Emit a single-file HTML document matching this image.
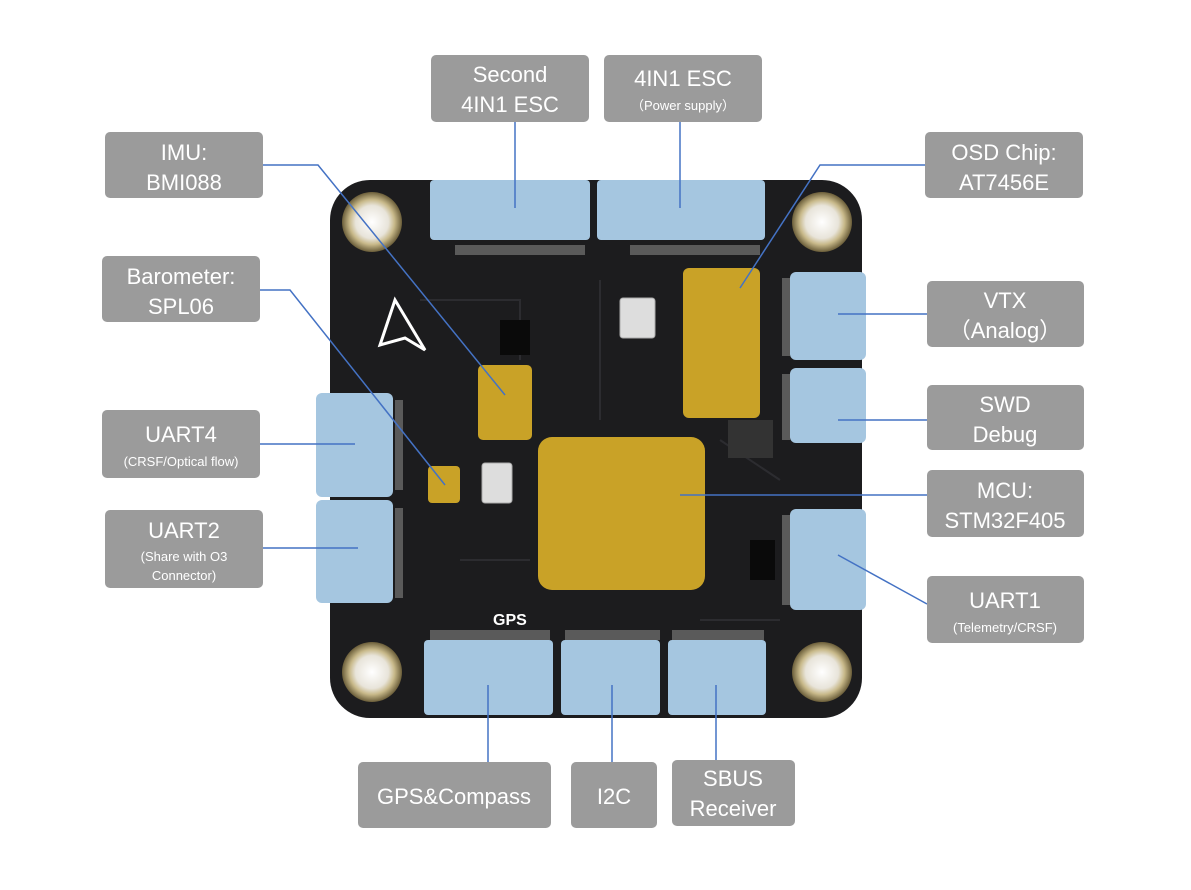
<!DOCTYPE html>
<html><head><meta charset="utf-8"><style>
html,body{margin:0;padding:0;background:#fff;}
svg{display:block;font-family:"Liberation Sans","DejaVu Sans",sans-serif;}
</style></head><body>
<svg width="1191" height="890" viewBox="0 0 1191 890" xmlns="http://www.w3.org/2000/svg">
<defs>
<radialGradient id="hole" cx="50%" cy="50%" r="50%">
<stop offset="0" stop-color="#fff"/><stop offset="0.55" stop-color="#e8e4da"/><stop offset="0.75" stop-color="#c8b98a"/><stop offset="1" stop-color="#6b5e3a"/>
</radialGradient>
</defs>
<!-- board -->
<rect x="330" y="180" width="532" height="538" rx="40" fill="#1c1c1e"/>
<!-- faint traces -->
<g stroke="#2c2c30" stroke-width="2" fill="none">
<path d="M420 300 L520 300 L520 360"/><path d="M600 280 L600 420"/><path d="M720 440 L780 480"/><path d="M460 560 L530 560"/><path d="M700 620 L780 620"/>
</g>
<!-- pin rows -->
<g fill="#5a5a5a">
<rect x="455" y="245" width="130" height="10"/><rect x="630" y="245" width="130" height="10"/>
<rect x="430" y="630" width="120" height="10"/><rect x="565" y="630" width="95" height="10"/><rect x="672" y="630" width="92" height="10"/>
<rect x="395" y="400" width="8" height="90"/><rect x="395" y="508" width="8" height="90"/>
<rect x="782" y="278" width="8" height="78"/><rect x="782" y="374" width="8" height="66"/><rect x="782" y="515" width="8" height="90"/>
</g>
<!-- holes -->
<circle cx="372" cy="222" r="30" fill="url(#hole)"/><circle cx="822" cy="222" r="30" fill="url(#hole)"/>
<circle cx="372" cy="672" r="30" fill="url(#hole)"/><circle cx="822" cy="672" r="30" fill="url(#hole)"/>
<!-- logo -->
<path d="M395 300 L425 350 L405 338 L380 345 Z" fill="none" stroke="#fff" stroke-width="3"/>
<!-- small parts -->
<rect x="500" y="320" width="30" height="35" fill="#0a0a0a"/>
<rect x="620" y="298" width="35" height="40" rx="3" fill="#ddd" stroke="#aaa"/>
<rect x="482" y="463" width="30" height="40" rx="3" fill="#ddd" stroke="#aaa"/>
<rect x="750" y="540" width="25" height="40" fill="#0a0a0a"/>
<rect x="728" y="420" width="45" height="38" fill="#333"/>
<text x="493" y="625" font-size="16" fill="#fff" font-weight="bold">GPS</text>
<!-- gold chips -->
<rect x="683" y="268" width="77" height="150" rx="6" fill="#c9a227"/>
<rect x="538" y="437" width="167" height="153" rx="14" fill="#c9a227"/>
<rect x="478" y="365" width="54" height="75" rx="5" fill="#c9a227"/>
<rect x="428" y="466" width="32" height="37" rx="4" fill="#c9a227"/>
<!-- blue connectors -->
<g fill="#a5c6e0">
<rect x="430" y="180" width="160" height="60" rx="4"/>
<rect x="597" y="180" width="168" height="60" rx="4"/>
<rect x="790" y="272" width="76" height="88" rx="6"/>
<rect x="790" y="368" width="76" height="75" rx="6"/>
<rect x="790" y="509" width="76" height="101" rx="6"/>
<rect x="316" y="393" width="77" height="104" rx="6"/>
<rect x="316" y="500" width="77" height="103" rx="6"/>
<rect x="424" y="640" width="129" height="75" rx="4"/>
<rect x="561" y="640" width="99" height="75" rx="4"/>
<rect x="668" y="640" width="98" height="75" rx="4"/>
</g>
<!-- lines -->
<g stroke="#4472c4" stroke-width="1.5" fill="none">
<path d="M515 122 V208"/><path d="M680 122 V208"/>
<path d="M263 165 H318 L505 395"/>
<path d="M925 165 H820 L740 288"/>
<path d="M260 290 H290 L445 485"/>
<path d="M927 314 H838"/><path d="M927 420 H838"/>
<path d="M260 444 H355"/><path d="M927 495 H680"/>
<path d="M263 548 H358"/><path d="M927 604 L838 555"/>
<path d="M488 762 V685"/><path d="M612 762 V685"/><path d="M716 760 V685"/>
</g>
<!-- labels -->
<g fill="#9b9b9b">
<rect x="431" y="55" width="158" height="67" rx="5"/>
<rect x="604" y="55" width="158" height="67" rx="5"/>
<rect x="105" y="132" width="158" height="66" rx="5"/>
<rect x="925" y="132" width="158" height="66" rx="5"/>
<rect x="102" y="256" width="158" height="66" rx="5"/>
<rect x="927" y="281" width="157" height="66" rx="5"/>
<rect x="927" y="385" width="157" height="65" rx="5"/>
<rect x="102" y="410" width="158" height="68" rx="5"/>
<rect x="927" y="470" width="157" height="67" rx="5"/>
<rect x="105" y="510" width="158" height="78" rx="5"/>
<rect x="927" y="576" width="157" height="67" rx="5"/>
<rect x="358" y="762" width="193" height="66" rx="5"/>
<rect x="571" y="762" width="86" height="66" rx="5"/>
<rect x="672" y="760" width="123" height="66" rx="5"/>
</g>
<g fill="#fff" text-anchor="middle" font-size="22">
<text x="510" y="82">Second</text><text x="510" y="112">4IN1 ESC</text>
<text x="683" y="86">4IN1 ESC</text><text x="683" y="110" font-size="13">（Power supply）</text>
<text x="184" y="160">IMU:</text><text x="184" y="190">BMI088</text>
<text x="1004" y="160">OSD Chip:</text><text x="1004" y="190">AT7456E</text>
<text x="181" y="284">Barometer:</text><text x="181" y="314">SPL06</text>
<text x="1005" y="308">VTX</text><text x="1005" y="338">（Analog）</text>
<text x="1005" y="412">SWD</text><text x="1005" y="442">Debug</text>
<text x="181" y="442">UART4</text><text x="181" y="466" font-size="13">(CRSF/Optical flow)</text>
<text x="1005" y="498">MCU:</text><text x="1005" y="528">STM32F405</text>
<text x="184" y="538">UART2</text><text x="184" y="561" font-size="13">(Share with O3</text><text x="184" y="580" font-size="13">Connector)</text>
<text x="1005" y="608">UART1</text><text x="1005" y="632" font-size="13">(Telemetry/CRSF)</text>
<text x="454" y="804">GPS&amp;Compass</text>
<text x="614" y="804">I2C</text>
<text x="733" y="786">SBUS</text><text x="733" y="816">Receiver</text>
</g>
</svg>
</body></html>
